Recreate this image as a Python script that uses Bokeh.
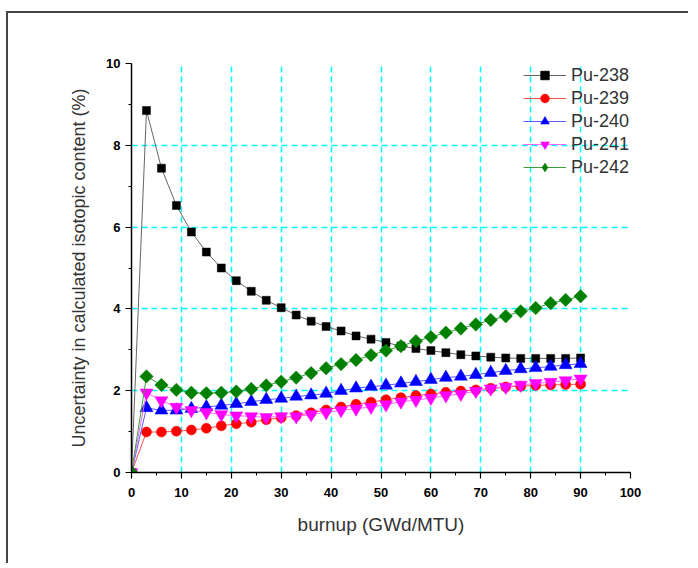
import math
from bokeh.plotting import figure
from bokeh.models import (Range1d, FixedTicker, SingleIntervalTicker, Legend, LegendItem,
                          ColumnDataSource)
from bokeh.embed import file_html
from bokeh.resources import INLINE

burnup = [0, 3, 6, 9, 12, 15, 18, 21, 24, 27, 30, 33, 36, 39, 42, 45, 48, 51, 54, 57,
          60, 63, 66, 69, 72, 75, 78, 81, 84, 87, 90]
pu238 = [0, 8.85, 7.44, 6.53, 5.88, 5.39, 5.00, 4.69, 4.43, 4.21, 4.03, 3.85, 3.70, 3.57,
         3.46, 3.34, 3.26, 3.18, 3.09, 3.03, 2.98, 2.93, 2.88, 2.85, 2.82, 2.80, 2.79, 2.79,
         2.79, 2.79, 2.80]
pu239 = [0, 0.99, 0.99, 1.01, 1.04, 1.08, 1.14, 1.19, 1.23, 1.29, 1.34, 1.39, 1.46, 1.53,
         1.60, 1.67, 1.72, 1.78, 1.83, 1.88, 1.92, 1.96, 1.99, 2.02, 2.06, 2.09, 2.11, 2.13,
         2.14, 2.15, 2.16]
pu240 = [0, 1.58, 1.52, 1.52, 1.56, 1.60, 1.64, 1.68, 1.73, 1.78, 1.81, 1.86, 1.89, 1.93,
         2.00, 2.06, 2.10, 2.13, 2.18, 2.22, 2.27, 2.32, 2.35, 2.39, 2.44, 2.49, 2.53, 2.56,
         2.59, 2.63, 2.66]
pu241 = [0, 1.95, 1.76, 1.60, 1.52, 1.47, 1.42, 1.39, 1.37, 1.35, 1.37, 1.37, 1.42, 1.47,
         1.52, 1.56, 1.60, 1.66, 1.73, 1.77, 1.82, 1.88, 1.92, 1.99, 2.05, 2.09, 2.14, 2.18,
         2.21, 2.25, 2.29]
pu242 = [0, 2.35, 2.14, 2.02, 1.95, 1.94, 1.95, 1.98, 2.04, 2.13, 2.22, 2.32, 2.43, 2.55,
         2.65, 2.75, 2.87, 2.98, 3.09, 3.21, 3.31, 3.42, 3.52, 3.62, 3.73, 3.82, 3.94, 4.02,
         4.14, 4.22, 4.31]
labels = ["Pu-238", "Pu-239", "Pu-240", "Pu-241", "Pu-242"]
x_grid = [10, 20, 30, 40, 50, 60, 70, 80, 90]
y_grid = [2, 4, 6, 8]

W, H = 682, 552
p = figure(width=W, height=H, output_backend="svg", toolbar_location=None,
           x_range=Range1d(0, 100), y_range=Range1d(0, 10),
           min_border_left=123, min_border_right=W - 622,
           min_border_top=50, min_border_bottom=H - 459)
p.styles = {"margin-left": "6px", "margin-top": "11px",
            "border-left": "2px solid #444444", "border-top": "2px solid #444444"}
p.outline_line_color = None
p.background_fill_color = "white"
p.border_fill_color = "white"

FONT = "Liberation Sans"
for ax in (p.xaxis[0], p.yaxis[0]):
    ax.axis_line_color = "black"
    ax.axis_line_width = 1.5
    ax.major_tick_line_color = "black"
    ax.minor_tick_line_color = "black"
    ax.major_tick_line_width = 1.2
    ax.minor_tick_line_width = 1.0
    ax.major_tick_in = 0
    ax.minor_tick_in = 0
    ax.major_tick_out = 6
    ax.minor_tick_out = 3
    ax.major_label_text_font = FONT
    ax.major_label_text_font_style = "bold"
    ax.major_label_text_font_size = "13px"
    ax.major_label_text_color = "black"
    ax.axis_label_text_font = FONT
    ax.axis_label_text_font_style = "normal"
    ax.axis_label_text_font_size = "18px"
    ax.axis_label_text_color = "#333333"

p.xaxis[0].axis_label_text_font_size = "19px"
p.xaxis[0].ticker = SingleIntervalTicker(interval=10, num_minor_ticks=2)
p.yaxis[0].ticker = SingleIntervalTicker(interval=2, num_minor_ticks=2)
p.xaxis[0].major_label_standoff = 9
p.yaxis[0].major_label_standoff = 5
p.xaxis[0].axis_label = "burnup (GWd/MTU)"
p.yaxis[0].axis_label = "Uncertainty in calculated isotopic content (%)"
p.xaxis[0].axis_label_standoff = 14
p.yaxis[0].axis_label_standoff = 14

p.xgrid[0].ticker = FixedTicker(ticks=x_grid)
p.ygrid[0].ticker = FixedTicker(ticks=y_grid)
for g in (p.xgrid[0], p.ygrid[0]):
    g.grid_line_color = "#00ffff"
    g.grid_line_width = 1.5
    g.grid_line_dash = "6 4"

# (values, line colour, marker colour, marker, size, angle, legend marker)
series = [
    (pu238, "#666666", "black", "square", 8, 0.0, "square"),
    (pu239, "#ff5050", "#ff0000", "circle", 10, 0.0, "circle"),
    (pu240, "#5a5aff", "#0000ff", "triangle", 13, 0.0, "triangle"),
    (pu241, "#ff66ff", "#ff00ff", "inverted_triangle", 13, 0.0, "inverted_triangle"),
    (pu242, "#3c9c3c", "#008000", "square", 9.5, math.pi / 4, "diamond"),
]
items = []
for (ys, lc, mc, mk, sz, ang, lmk), lab in zip(series, labels):
    src = ColumnDataSource(dict(x=burnup, y=ys))
    lr = p.line("x", "y", source=src, line_color=lc, line_width=1)
    leg_r = None
    if lmk != mk:
        # diamond drawn beneath the rotated squares, used for the legend glyph
        leg_r = p.scatter("x", "y", source=src, marker=lmk, size=sz * 1.2,
                          fill_color=mc, line_color=mc, line_width=0.5)
    sr = p.scatter("x", "y", source=src, marker=mk, size=sz, angle=ang,
                   fill_color=mc, line_color=mc, line_width=0.5)
    items.append(LegendItem(label=lab, renderers=[lr, leg_r if leg_r is not None else sr]))

legend = Legend(items=items, location=(392, 294), orientation="vertical",
                background_fill_alpha=0, border_line_color=None,
                padding=0, margin=0, spacing=1,
                glyph_width=43, glyph_height=22, label_height=22,
                label_standoff=5,
                label_text_font=FONT, label_text_font_size="18px",
                label_text_color="#333333")
p.add_layout(legend, "center")

open("out.html", "w").write(file_html(p, INLINE))
